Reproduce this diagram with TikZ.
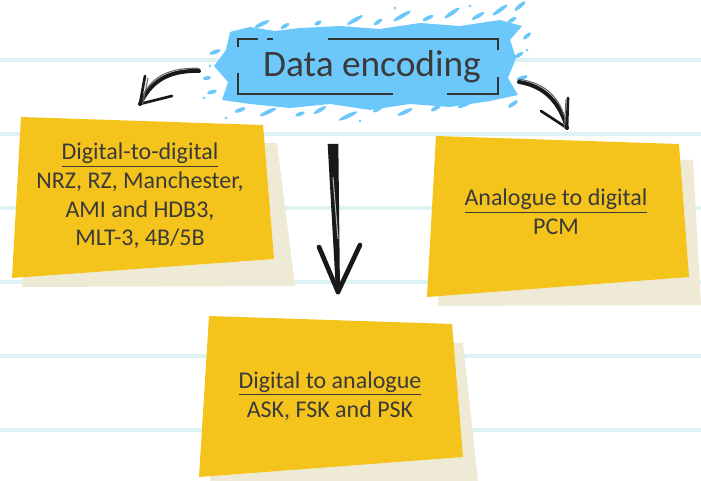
\documentclass[tikz,border=0pt]{standalone}
\usepackage{fontspec}
\setmainfont{Carlito}
\definecolor{ruleblue}{HTML}{DDF3F3}
\definecolor{notey}{HTML}{F5C41C}
\definecolor{paper}{HTML}{EEEAD6}
\definecolor{splash}{HTML}{6CC8FA}
\definecolor{ink}{HTML}{3A3A3A}

\begin{document}
\begin{tikzpicture}[x=0.75pt,y=-0.75pt,
    rule/.style={ruleblue,line width=2.3pt},
    shadow/.style={fill=paper},
    note/.style={fill=notey},
    label/.style={text=ink,font=\fontsize{18}{21.5}\selectfont,align=center},
    brush/.style={line width=2pt,line cap=round,line join=round,black!90},
    brushlight/.style={line width=0.8pt,line cap=round,black!60}
]
\useasboundingbox (0,0) rectangle (701,481);

% ruled paper
\foreach \y in {60,134,208,282,356,430}
  \draw[rule] (0,\y) -- (701,\y);

% sticky notes
\fill[shadow] (28,140) -- (277,143) -- (295,286) -- (22,287) -- cycle;
\fill[note] (21,117) -- (263,125) -- (274,259) -- (12,278) -- cycle;

\fill[shadow] (440,160) -- (693,160) -- (701,305) -- (438,306) -- cycle;
\fill[note] (436,136) -- (679,144) -- (689,277) -- (427,297) -- cycle;

\fill[shadow] (215,340) -- (463,343) -- (478,481) -- (210,481) -- cycle;
\fill[note] (209,316) -- (452,324) -- (463,457) -- (199,477) -- cycle;

% paint splash
\fill[splash] (230,32) -- (250,27) -- (275,31) -- (300,28) -- (340,26) -- (380,29) -- (420,23)
  -- (460,26) -- (500,20) -- (522,26) -- (510,40) -- (516,58) -- (508,78)
  -- (518,95) -- (490,101) -- (450,107) -- (410,104) -- (370,110) -- (330,104)
  -- (290,108) -- (250,104) -- (222,100) -- (228,82) -- (214,66) -- (226,50) -- cycle;
\foreach \x/\y/\a/\l in {262/24/25/8,285/26/30/5,318/23/30/4,355/20/30/9,378/22/35/5,402/16/30/10,
    428/18/25/6,452/13/35/9,478/16/30/7,500/10/35/9,520/6/40/7,512/20/30/5,
    240/110/20/6,268/112/25/9,300/114/20/5,320/110/30/7,348/116/25/10,378/109/30/6,405/112/25/8,
    436/108/30/6,466/104/25/9,212/92/15/5,207/78/10/4,215/52/20/6,
    519/55/30/5,522/78/20/6,513/104/35/6,527/36/40/5}
  \fill[splash,rotate around={\a:(\x,\y)}] (\x,\y) ellipse ({\l} and 2);
\foreach \x/\y in {204/98,210/66,226/118,360/121,527/50,470/6,395/8}
  \fill[splash] (\x,\y) circle (1.4);

% title frame
\begin{scope}[ink!90!black,line width=1.5pt]
  \draw (238,47) -- (238,39) -- (258,39);
  \draw (267,39) -- (273,39);
  \draw (328,39) -- (498,39) -- (498,50);
  \draw (238,73) -- (238,94) -- (393,94);
  \draw (447,94) -- (498,94) -- (498,77);
\end{scope}

% texts
\node[label,font=\fontsize{28}{32}\selectfont] (title) at (372,67) {Data encoding};
\node[label] (d2d) at (140,196) {\underline{Digital-to-digital}\\NRZ, RZ, Manchester,\\AMI and HDB3,\\MLT-3, 4B/5B};
\node[label] (a2d) at (556,212) {\underline{Analogue to digital}\\PCM};
\node[label] (d2a) at (330,396) {\underline{Digital to analogue}\\ASK, FSK and PSK};

% hand drawn arrows
\coordinate (lfrom) at (199,71);
\coordinate (lto) at (140,104);
\coordinate (rfrom) at (519,82);
\coordinate (rto) at (567,128);
\coordinate (mfrom) at (333,144);
\coordinate (mto) at (338,292);

\draw[brush,line width=3pt] (lfrom) .. controls (165,70) and (150,84) .. (lto);
\draw[brushlight] ([yshift=2]lfrom) .. controls (163,67) and (146,82) .. (lto);
\draw[brush] (lto) -- (145,76);
\draw[brush] (lto) -- (172,96);
\draw[brushlight] ([xshift=2]lto) -- (148,78);

\draw[brush,line width=3pt] (rfrom) .. controls (545,86) and (560,103) .. (rto);
\draw[brushlight] ([yshift=2]rfrom) .. controls (548,83) and (563,101) .. (rto);
\draw[brush] (rto) -- (568,98);
\draw[brush] (rto) -- (541,111);
\draw[brushlight] ([xshift=-2]rto) -- (566,100);

\fill[black!90] ([xshift=-4]mfrom) -- ([xshift=4]mfrom) -- ([xshift=1.5]mto) -- ([xshift=-1.5]mto) -- cycle;
\draw[brushlight,white!70!black] ([yshift=-25]mfrom) -- ([yshift=40]mto);
\draw[brush,line width=3.5pt] (mto) -- (319,247);
\draw[brush,line width=3.5pt] (mto) -- (360,245);
\end{tikzpicture}
\end{document}
